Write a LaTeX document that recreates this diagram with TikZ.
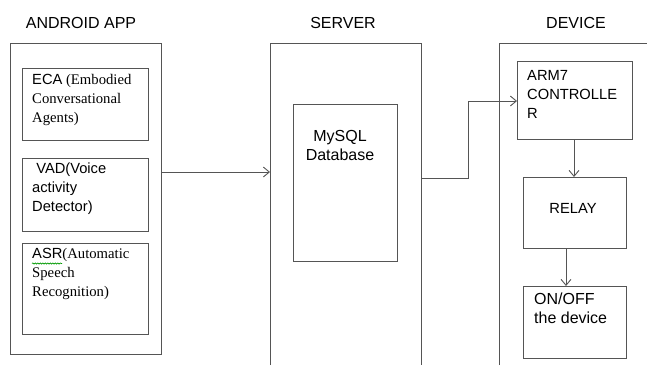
\documentclass[tikz,border=0pt]{standalone}
\usepackage{fontspec}
\setmainfont{Liberation Serif}
\newfontfamily\arial{Liberation Sans}
\usetikzlibrary{arrows.meta,decorations.pathmorphing}
\definecolor{linegray}{HTML}{555555}
\tikzset{
  box/.style={draw=linegray, line width=0.9pt, minimum width=#1, inner sep=0pt, outer sep=0pt, anchor=north west},
  heading/.style={font=\arial\fontsize{16}{19}\selectfont, inner sep=0pt, anchor=base},
  txt/.style={font=\fontsize{14.7}{19}\selectfont, align=left, inner sep=0pt, anchor=north west},
  atxt/.style={font=\arial\fontsize{14.7}{19}\selectfont, align=left, inner sep=0pt, anchor=north west},
  link/.style={draw=linegray, line width=0.9pt, -{Straight Barb[length=6pt,width=10pt]}},
}
\begin{document}
\begin{tikzpicture}[x=1pt,y=-1pt]
\useasboundingbox (0,0) rectangle (647,365);

% column headings
\node[heading] (hA) at (81,28) {ANDROID APP};
\node[heading] (hS) at (343,28) {SERVER};
\node[heading] (hD) at (576,28) {DEVICE};

% outer frames (server and device frames run off the bottom edge)
\node[box=151pt, minimum height=311pt] (app) at (10,43) {};
\draw[linegray, line width=0.9pt] (270,365) -- (270,43) -- (421,43) -- (421,365);
\coordinate (srvL) at (270,172);
\coordinate (srvR) at (421,178);
\draw[linegray, line width=0.9pt] (499,365) -- (499,43) -- (647,43);

% android app blocks
\node[box=126pt, minimum height=72pt] (eca) at (22,68) {};
\node[txt] (ecaT) at (32,74) {{\arial ECA} (Embodied\\Conversational\\Agents)};
\node[box=126pt, minimum height=73pt] (vad) at (22,158) {};
\node[atxt] (vadT) at (32,163) {\ VAD(Voice\\activity\\Detector)};
\node[box=126pt, minimum height=91pt] (asr) at (22,243) {};
\node[txt] (asrT) at (32,248) {{\arial ASR}(Automatic\\Speech\\Recognition)};
\draw[green!60!black, line width=0.6pt, decorate, decoration={snake, amplitude=0.6pt, segment length=2.5pt}] (32,263.5) -- (62,263.5);

% server block
\node[box=104pt, minimum height=157pt] (db) at (293,104) {};
\node[font=\arial\fontsize{16}{19}\selectfont, align=center, inner sep=0pt, anchor=north] (dbT) at (340,130) {MySQL\\Database};

% device blocks
\node[box=115pt, minimum height=78pt] (arm) at (517,61) {};
\node[atxt] (armT) at (527,70) {ARM7\\CONTROLLE\\R};
\node[box=103pt, minimum height=71pt] (relay) at (523,177) {};
\node[font=\arial\fontsize{14.7}{19}\selectfont, inner sep=0pt, anchor=north] (relayT) at (573,203) {RELAY};
\node[box=103pt, minimum height=72pt] (onoff) at (523,286) {};
\node[font=\arial\fontsize{16}{19}\selectfont, align=left, inner sep=0pt, anchor=north west] (onoffT) at (534,293) {ON/OFF\\the device};

% connectors
\draw[link] (app.east |- 0,172) -- (srvL);
\coordinate (bend1) at (468,178);
\coordinate (bend2) at (468,101);
\draw[link] (srvR) -- (bend1) -- (bend2) -- (arm.west |- bend2);
\draw[link] (arm.south -| 574,0) -- (relay.north -| 574,0);
\draw[link] (relay.south -| 566,0) -- (onoff.north -| 566,0);
\end{tikzpicture}
\end{document}
